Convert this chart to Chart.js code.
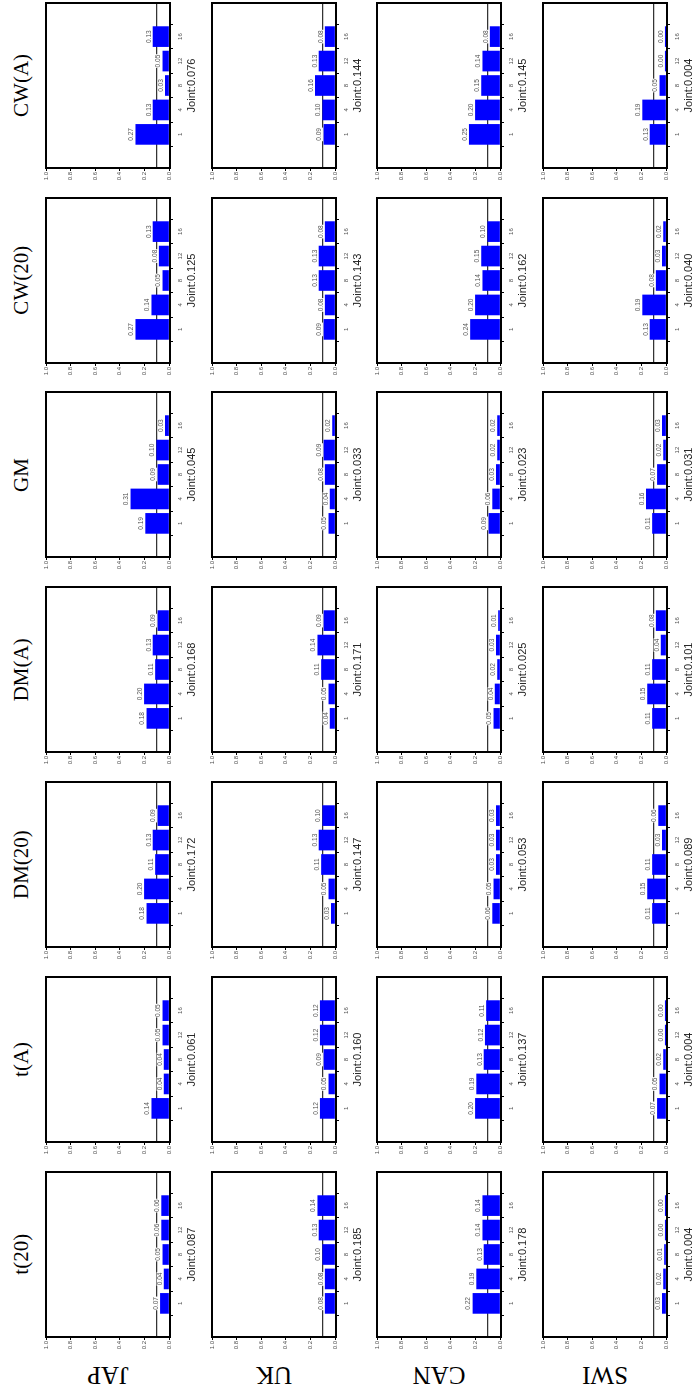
<!DOCTYPE html>
<html>
<head>
<meta charset="utf-8">
<script src="https://cdn.jsdelivr.net/npm/chart.js@4.4.0/dist/chart.umd.min.js"></script>
<style>
  html, body { margin: 0; padding: 0; background: #fff; }
  body { width: 694px; height: 1393px; overflow: hidden; position: relative; }
  /* the figure is laid out landscape and turned a quarter turn counter-clockwise */
  #fig { position: absolute; left: 0; top: 0; width: 1393px; height: 694px;
         transform-origin: 0 0; transform: translate(0px, 1393px) rotate(-90deg); }
  .panel { position: absolute; }
  .head { position: absolute; width: 165px; height: 24px; line-height: 24px; text-align: center;
          font-family: "Liberation Serif", "Times New Roman", serif; font-size: 21px; color: #000; }
  .rowlab { position: absolute; width: 124px; height: 30px; line-height: 30px; text-align: center;
            font-family: "Liberation Serif", "Times New Roman", serif; font-size: 25px; color: #000;
            transform: rotate(-90deg); }
</style>
</head>
<body>
<div id="fig"></div>
<script>
const models = ['t(20)', 't(A)', 'DM(20)', 'DM(A)', 'GM', 'CW(20)', 'CW(A)'];
const countries = ['JAP', 'UK', 'CAN', 'SWI'];
const lags = ['1', '4', '8', '12', '16'];
const valueTicks = [0, 0.2, 0.4, 0.6, 0.8, 1.0];
const critLine = 0.1;

// p-values, one row per model (same order as models), lags 1,4,8,12,16
const pJAP = [
  [0.07, 0.04, 0.05, 0.06, 0.06],
  [0.14, 0.04, 0.04, 0.05, 0.05],
  [0.18, 0.20, 0.11, 0.13, 0.09],
  [0.18, 0.20, 0.11, 0.13, 0.09],
  [0.19, 0.31, 0.09, 0.10, 0.03],
  [0.27, 0.14, 0.05, 0.08, 0.13],
  [0.27, 0.13, 0.03, 0.05, 0.13]
];
const pUK = [
  [0.08, 0.08, 0.10, 0.13, 0.14],
  [0.12, 0.05, 0.09, 0.12, 0.12],
  [0.03, 0.05, 0.11, 0.13, 0.10],
  [0.04, 0.05, 0.11, 0.14, 0.09],
  [0.05, 0.04, 0.08, 0.09, 0.02],
  [0.09, 0.08, 0.13, 0.13, 0.08],
  [0.09, 0.10, 0.16, 0.13, 0.08]
];
const pCAN = [
  [0.22, 0.19, 0.13, 0.14, 0.14],
  [0.20, 0.19, 0.13, 0.12, 0.11],
  [0.06, 0.05, 0.03, 0.03, 0.03],
  [0.05, 0.04, 0.02, 0.03, 0.01],
  [0.09, 0.06, 0.03, 0.02, 0.02],
  [0.24, 0.20, 0.14, 0.15, 0.10],
  [0.25, 0.20, 0.15, 0.14, 0.08]
];
const pSWI = [
  [0.03, 0.02, 0.01, 0.00, 0.00],
  [0.07, 0.05, 0.02, 0.00, 0.00],
  [0.11, 0.15, 0.11, 0.03, 0.06],
  [0.11, 0.15, 0.11, 0.04, 0.08],
  [0.11, 0.16, 0.07, 0.02, 0.03],
  [0.13, 0.19, 0.08, 0.03, 0.02],
  [0.13, 0.19, 0.05, 0.00, 0.00]
];

const jointJAP = [0.087, 0.061, 0.172, 0.168, 0.045, 0.125, 0.076];
const jointUK  = [0.185, 0.160, 0.147, 0.171, 0.033, 0.143, 0.144];
const jointCAN = [0.178, 0.137, 0.053, 0.025, 0.023, 0.162, 0.145];
const jointSWI = [0.004, 0.004, 0.089, 0.101, 0.031, 0.040, 0.004];

const pvals = [pJAP, pUK, pCAN, pSWI];
const joints = [jointJAP, jointUK, jointCAN, jointSWI];

const sans = '"Liberation Sans", Arial, Helvetica, sans-serif';

// frame placement (landscape coordinates)
const frameW = 165, frameH = 124;
const colLeft = c => 56.3 + 194.8 * c;
const rowTop = r => 46 + 165.7 * r;
const padL = 20, padT = 6, padR = 6, padB = 30;

const panelDecor = {
  id: 'panelDecor',
  beforeDatasetsDraw(chart) {
    const {ctx, chartArea: a, scales} = chart;
    const y = scales.y.getPixelForValue(critLine);
    ctx.save();
    ctx.strokeStyle = '#000';
    ctx.lineWidth = 1;
    ctx.beginPath();
    ctx.moveTo(a.left, y);
    ctx.lineTo(a.right, y);
    ctx.stroke();
    ctx.restore();
  },
  afterDatasetsDraw(chart) {
    const ctx = chart.ctx;
    const meta = chart.getDatasetMeta(0);
    const data = chart.data.datasets[0].data;
    ctx.save();
    ctx.font = '6.5px ' + sans;
    ctx.textAlign = 'center';
    ctx.textBaseline = 'bottom';
    meta.data.forEach((bar, i) => {
      const txt = data[i].y.toFixed(2);
      const w = ctx.measureText(txt).width;
      const yTop = Math.min(bar.y, bar.base) - 1;
      ctx.fillStyle = '#fff';
      ctx.fillRect(bar.x - w / 2 - 0.5, yTop - 6.5, w + 1, 6.5);
      ctx.fillStyle = '#555';
      ctx.fillText(txt, bar.x, yTop);
    });
    ctx.restore();
  },
  afterDraw(chart) {
    const {ctx, chartArea: a} = chart;
    ctx.save();
    ctx.strokeStyle = '#000';
    ctx.lineWidth = 2;
    ctx.strokeRect(a.left, a.top, a.right - a.left, a.bottom - a.top);
    ctx.restore();
  }
};

const fig = document.getElementById('fig');

models.forEach((m, c) => {
  const h = document.createElement('div');
  h.className = 'head';
  h.textContent = m;
  h.style.left = colLeft(c) + 'px';
  h.style.top = '9px';
  fig.appendChild(h);
});

countries.forEach((name, r) => {
  const lab = document.createElement('div');
  lab.className = 'rowlab';
  lab.textContent = name;
  lab.style.left = (18 - 62) + 'px';
  lab.style.top = (rowTop(r) + frameH / 2 - 15) + 'px';
  fig.appendChild(lab);

  models.forEach((m, c) => {
    const wrap = document.createElement('div');
    wrap.className = 'panel';
    wrap.style.left = (colLeft(c) - padL) + 'px';
    wrap.style.top = (rowTop(r) - padT) + 'px';
    const cv = document.createElement('canvas');
    cv.width = frameW + padL + padR;
    cv.height = frameH + padT + padB;
    wrap.appendChild(cv);
    fig.appendChild(wrap);

    const vals = pvals[r][c];
    new Chart(cv, {
      type: 'bar',
      data: {
        datasets: [{
          data: vals.map((v, i) => ({x: i, y: v})),
          backgroundColor: '#0000ff',
          borderWidth: 0,
          barThickness: 20,
          minBarLength: 1.5
        }]
      },
      options: {
        responsive: false,
        animation: false,
        events: [],
        layout: { padding: {left: 0, top: padT, right: padR, bottom: 0} },
        plugins: { legend: {display: false}, tooltip: {enabled: false} },
        scales: {
          x: {
            type: 'linear', min: -0.7, max: 4.7,
            afterBuildTicks: s => { s.ticks = lags.map((l, i) => ({value: i})); },
            afterFit: s => { s.height = padB; },
            ticks: {
              callback: v => lags[v],
              font: {family: sans, size: 6}, color: '#555',
              padding: 4, minRotation: 0, maxRotation: 0, autoSkip: false
            },
            grid: {drawOnChartArea: false, tickLength: 3, color: '#000', lineWidth: 1},
            border: {display: false},
            title: {
              display: true,
              text: 'Joint:' + joints[r][c].toFixed(3),
              font: {family: sans, size: 11}, color: '#222',
              padding: {top: 0, bottom: 1.5}
            }
          },
          y: {
            min: -0.008, max: 1,
            afterBuildTicks: s => { s.ticks = valueTicks.map(v => ({value: v})); },
            afterFit: s => { s.width = padL; },
            ticks: {
              callback: v => v.toFixed(1),
              font: {family: sans, size: 6}, color: '#555', padding: 1
            },
            grid: {drawOnChartArea: false, tickLength: 3, color: '#000', lineWidth: 1},
            border: {display: false}
          }
        }
      },
      plugins: [panelDecor]
    });
  });
});
</script>
</body>
</html>
